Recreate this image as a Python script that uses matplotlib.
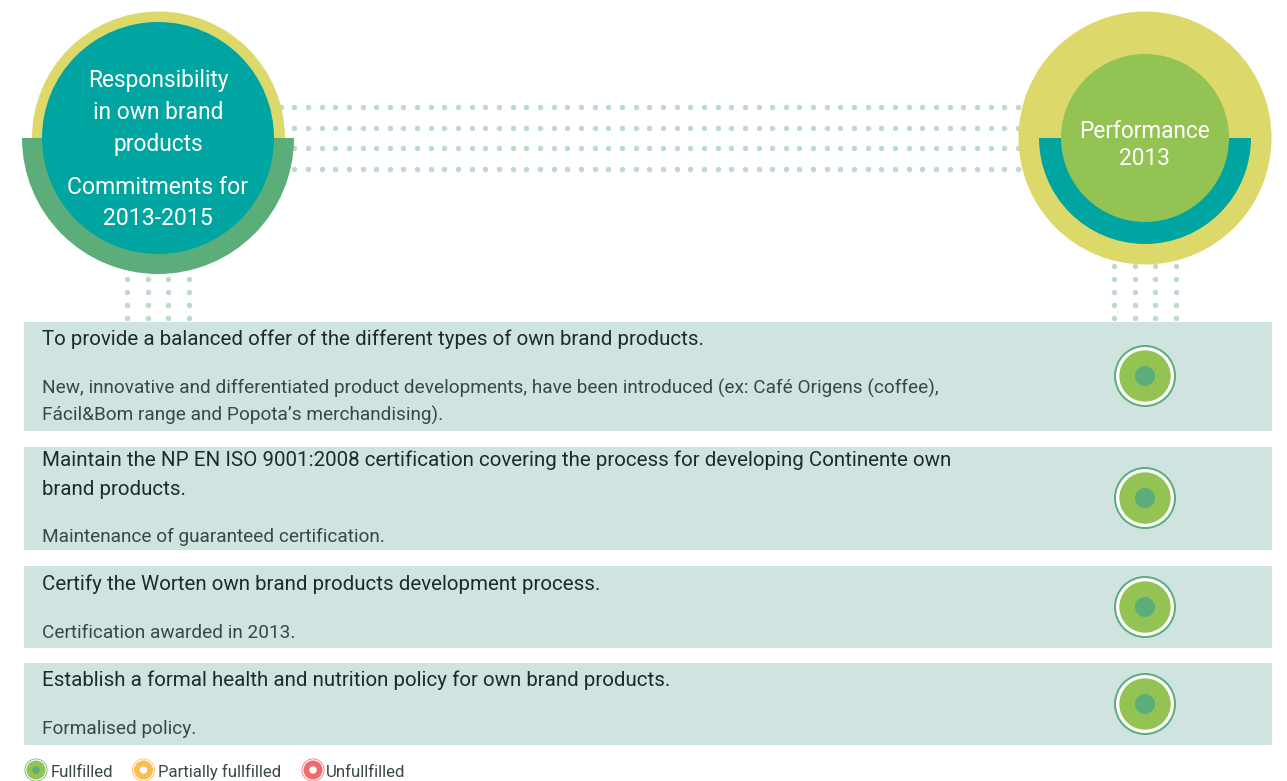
#!/usr/bin/env python3

# Commitments vs performance table, drawn in pixel coordinates.

import matplotlib
matplotlib.use("Agg")
import matplotlib.pyplot as plt
from matplotlib.patches import Circle, Rectangle, Wedge
import numpy as np

matplotlib.rc("font", family=["Roboto", "DejaVu Sans"])

# Colours
yellow = "#DCD96A"
teal = "#00A5A2"
seaGreen = "#5BAE79"
leafGreen = "#92C353"
dotColour = "#BEDBC3"
bandColour = "#CFE4E1"
textColour = "#1F2A2C"
softText = "#3A4648"
orange = "#FBBC51"
red = "#EE6A6C"

# Content
leftHeading = ["Responsibility", "in own brand", "products"]
leftSubheading = ["Commitments for", "2013-2015"]
rightHeading = ["Performance", "2013"]

commitments = [
    ["To provide a balanced offer of the different types of own brand products."],
    ["Maintain the NP EN ISO 9001:2008 certification covering the process for developing Continente own",
     "brand products."],
    ["Certify the Worten own brand products development process."],
    ["Establish a formal health and nutrition policy for own brand products."],
]
results = [
    ["New, innovative and differentiated product developments, have been introduced (ex: Café Origens (coffee),",
     "Fácil&Bom range and Popota’s merchandising)."],
    ["Maintenance of guaranteed certification."],
    ["Certification awarded in 2013."],
    ["Formalised policy."],
]
statusLabels = ["Fullfilled", "Partially fullfilled", "Unfullfilled"]

# Layout, in pixels
bandTops = [322, 447, 566, 663]
bandBottoms = [431, 550, 648, 745]
titleBaselines = [[345], [466, 495], [590], [686]]
resultBaselines = [[394, 421], [542], [638], [734]]
iconY = [376, 498, 607, 704]
legendIconX = [36, 143.5, 313]
legendTextX = [51, 158, 326]

figure = plt.figure(figsize=(12.87, 7.81), dpi=100)
axes = figure.add_axes([0, 0, 1, 1])
axes.set_xlim(0, 1287)
axes.set_ylim(781, 0)
axes.axis("off")


def status_icon(x, y, scale, fill, centre, edge):
    axes.add_patch(Circle((x, y), 31 * scale, color=edge, lw=0, zorder=5))
    axes.add_patch(Circle((x, y), 29 * scale, color="white", lw=0, zorder=5))
    axes.add_patch(Circle((x, y), 25.7 * scale, color=fill, lw=0, zorder=5))
    axes.add_patch(Circle((x, y), 10 * scale, color=centre, lw=0, zorder=5))


# Dotted connectors sit behind the circles
for y in [107, 127.5, 148, 168.5]:
    xs = 280.6 + 13.655 * np.arange(55)
    axes.plot(xs, [y] * len(xs), "o", ms=3.9, mew=0, color=dotColour, zorder=1)
for x in [127, 147.7, 168.2, 189]:
    ys = 278.7 + 13 * np.arange(4)
    axes.plot([x] * 4, ys, "o", ms=3.9, mew=0, color=dotColour, zorder=1)
for x in [1114, 1134.5, 1155.3, 1176]:
    ys = 265.7 + 13 * np.arange(5)
    axes.plot([x] * 5, ys, "o", ms=3.9, mew=0, color=dotColour, zorder=1)

# Left badge
axes.add_patch(Circle((158.5, 138), 126.5, color=yellow, lw=0, zorder=2))
axes.add_patch(Wedge((158, 138), 136, 0, 180, color=seaGreen, lw=0, zorder=3))
axes.add_patch(Circle((158, 138), 116, color=teal, lw=0, zorder=4))
for line, y in zip(leftHeading, [87, 119, 151]):
    axes.text(158, y, line, color="white", fontsize=16.4,
              ha="center", va="baseline", zorder=6)
for line, y in zip(leftSubheading, [194, 225]):
    axes.text(158, y, line, color="white", fontsize=16.6,
              ha="center", va="baseline", zorder=6)

# Right badge
axes.add_patch(Circle((1145, 138), 126.5, color=yellow, lw=0, zorder=2))
axes.add_patch(Wedge((1145, 138), 106, 0, 180, color=teal, lw=0, zorder=3))
axes.add_patch(Circle((1145, 138), 84, color=leafGreen, lw=0, zorder=4))
for line, y in zip(rightHeading, [138, 165]):
    axes.text(1144.5, y, line, color="white", fontsize=16.3,
              ha="center", va="baseline", zorder=6)

# Table rows
for i in range(len(commitments)):
    axes.add_patch(Rectangle((24, bandTops[i]), 1248, bandBottoms[i] - bandTops[i],
                             color=bandColour, lw=0, zorder=2))
    for line, y in zip(commitments[i], titleBaselines[i]):
        axes.text(42, y, line, color=textColour, fontsize=14.8,
                  va="baseline", zorder=6)
    for line, y in zip(results[i], resultBaselines[i]):
        axes.text(42, y, line, color=softText, fontsize=13.7,
                  va="baseline", zorder=6)
    status_icon(1145, iconY[i], 1, leafGreen, seaGreen, seaGreen)

# Legend
status_icon(legendIconX[0], 770, 0.37, leafGreen, seaGreen, seaGreen)
status_icon(legendIconX[1], 770, 0.37, orange, "white", orange)
status_icon(legendIconX[2], 770, 0.37, red, "white", red)
for label, x in zip(statusLabels, legendTextX):
    axes.text(x, 777, label, color=softText, fontsize=12.1,
              va="baseline", zorder=6)

figure.savefig("out.png", dpi=100)
